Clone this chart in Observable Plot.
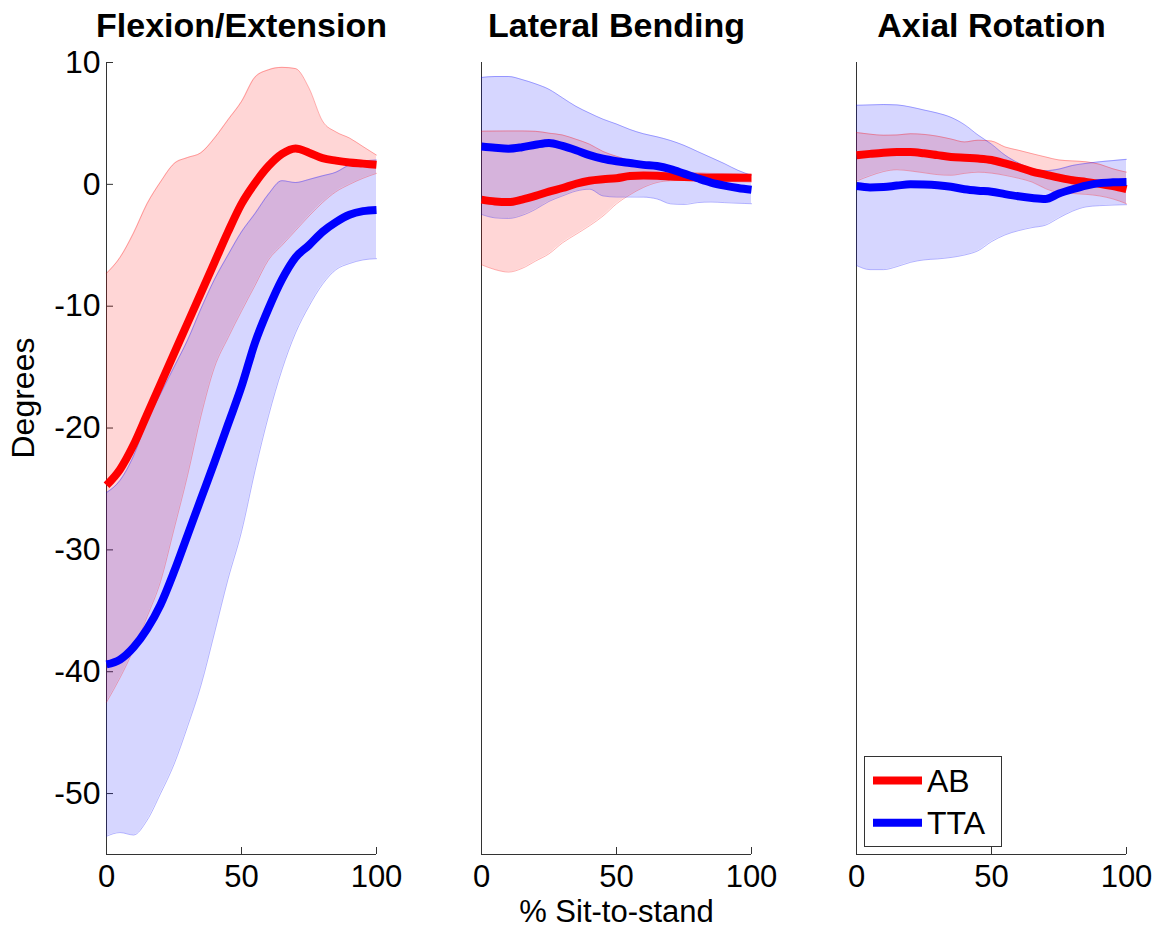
<!DOCTYPE html>
<html><head><meta charset="utf-8">
<script src="https://cdn.jsdelivr.net/npm/d3@7"></script>
<script src="https://cdn.jsdelivr.net/npm/@observablehq/plot@0.6"></script>
<style>
body{margin:0;background:#fff;}
#wrap{position:relative;width:1159px;height:928px;}
</style></head><body><div id="wrap"></div>
<script>
// ---- data ----
const panels = ["Flexion/Extension", "Lateral Bending", "Axial Rotation"];
const groups = ["AB", "TTA"];
const groupColors = ["#ff0000", "#0000ff"];
const xTicks = [0, 50, 100];
const yTicks = [10, 0, -10, -20, -30, -40, -50];
const xLabel = "% Sit-to-stand";
const yLabel = "Degrees";
const pct = [0,5,10,15,20,25,30,35,40,45,50,55,60,65,70,75,80,85,90,95,100];

const flexAB_mean = [-24.7,-23.4,-21.4,-18.9,-16.4,-13.9,-11.4,-8.9,-6.4,-3.9,-1.6,0.1,1.5,2.5,2.95,2.6,2.15,1.95,1.8,1.7,1.6];
const flexAB_hi   = [-7.3,-6.0,-4.0,-1.6,0.2,1.7,2.2,2.6,3.8,5.3,6.8,8.8,9.4,9.6,9.5,7.9,5.2,4.3,3.8,3.1,2.4];
const flexAB_lo   = [-42.5,-40.5,-38.2,-35.5,-32.6,-28.3,-23.9,-19.0,-15.0,-12.6,-10.4,-8.3,-6.2,-5.0,-3.8,-2.6,-1.5,-0.6,0.0,0.5,0.9];
const flexTTA_mean = [-39.4,-39.0,-38.0,-36.5,-34.5,-31.8,-28.8,-25.8,-22.8,-19.7,-16.6,-13.0,-10.2,-7.8,-6.0,-5.0,-3.9,-3.1,-2.5,-2.2,-2.1];
const flexTTA_hi   = [-25.3,-24.3,-22.3,-19.4,-17.2,-15.0,-12.8,-10.2,-7.8,-5.8,-3.9,-2.4,-0.8,0.3,0.15,0.4,0.7,1.0,1.6,1.9,2.0];
const flexTTA_lo   = [-53.5,-53.2,-53.4,-52.2,-50.0,-47.6,-44.5,-41.1,-36.8,-32.4,-28.5,-23.5,-19.0,-15.2,-12.2,-10.0,-8.2,-7.0,-6.5,-6.2,-6.1];

const latAB_mean = [-1.25,-1.4,-1.45,-1.25,-0.95,-0.6,-0.3,0.05,0.3,0.42,0.5,0.68,0.72,0.7,0.65,0.6,0.57,0.55,0.55,0.55,0.55];
const latAB_hi   = [4.36,4.37,4.38,4.38,4.35,4.2,4.05,3.7,3.3,2.7,2.3,1.95,1.6,1.3,1.05,0.97,0.93,0.9,0.88,0.85,0.82];
const latAB_lo   = [-6.6,-7.0,-7.2,-6.9,-6.3,-5.7,-4.8,-4.1,-3.4,-2.6,-1.6,-0.85,-0.25,0.15,0.3,0.33,0.3,0.27,0.24,0.21,0.19];
const latTTA_mean = [3.1,3.0,2.93,3.05,3.25,3.4,3.15,2.8,2.4,2.1,1.9,1.75,1.6,1.5,1.25,0.88,0.5,0.15,-0.1,-0.3,-0.45];
const latTTA_hi   = [8.77,8.85,8.85,8.6,8.25,7.8,7.1,6.4,5.85,5.35,4.95,4.5,4.15,3.9,3.6,3.2,2.7,2.2,1.7,1.15,0.74];
const latTTA_lo   = [-2.47,-2.75,-2.8,-2.55,-2.05,-1.4,-0.95,-0.55,-0.4,-0.95,-1.04,-1.04,-1.05,-1.2,-1.6,-1.65,-1.5,-1.45,-1.5,-1.55,-1.59];

const axAB_mean = [2.38,2.5,2.6,2.65,2.65,2.55,2.4,2.25,2.18,2.12,2.0,1.72,1.4,1.05,0.8,0.55,0.33,0.2,0.05,-0.15,-0.4];
const axAB_hi   = [4.25,4.12,4.03,4.05,4.15,4.1,3.95,3.72,3.48,3.62,3.55,3.07,2.8,2.52,2.25,2.0,1.92,1.85,1.65,1.27,1.0];
const axAB_lo   = [0.27,0.7,1.05,1.2,1.1,0.95,0.8,0.75,0.9,1.0,0.92,0.74,0.5,0.19,-0.35,-0.68,-0.75,-0.82,-0.95,-1.2,-1.59];
const axTTA_mean = [-0.14,-0.25,-0.22,-0.1,0.0,-0.02,-0.08,-0.2,-0.4,-0.52,-0.6,-0.8,-0.98,-1.12,-1.2,-0.75,-0.4,-0.1,0.1,0.17,0.2];
const axTTA_hi   = [6.49,6.52,6.55,6.52,6.35,6.1,5.85,5.5,4.9,4.05,3.3,2.4,1.75,1.3,1.12,1.25,1.55,1.72,1.85,1.95,2.05];
const axTTA_lo   = [-6.66,-7.0,-7.0,-6.75,-6.4,-6.2,-6.12,-6.0,-5.8,-5.45,-4.7,-4.15,-3.8,-3.55,-3.35,-2.75,-2.2,-1.85,-1.75,-1.7,-1.67];

// ---- table ----
const seriesList = [
  [panels[0], groups[0], flexAB_mean, flexAB_lo, flexAB_hi],
  [panels[0], groups[1], flexTTA_mean, flexTTA_lo, flexTTA_hi],
  [panels[1], groups[0], latAB_mean, latAB_lo, latAB_hi],
  [panels[1], groups[1], latTTA_mean, latTTA_lo, latTTA_hi],
  [panels[2], groups[0], axAB_mean, axAB_lo, axAB_hi],
  [panels[2], groups[1], axTTA_mean, axTTA_lo, axTTA_hi]
];
const rows = [];
for (const [panel, group, m, lo, hi] of seriesList) {
  pct.forEach((p, i) => rows.push({panel, group, pct: p, mean: m[i], lo: lo[i], hi: hi[i]}));
}

const font = "'Liberation Sans', Arial, Helvetica, sans-serif";
const axisColor = "#333";
const curve = "monotone-x";

const chart = Plot.plot({
  width: 1159,
  height: 928,
  marginLeft: 106,
  marginRight: 33,
  marginTop: 62,
  marginBottom: 74,
  style: {fontFamily: font, fontSize: "31px", background: "#fff", color: "#000"},
  fx: {domain: panels, paddingInner: 0.28, paddingOuter: 0, axis: null},
  x: {domain: [0, 100]},
  y: {domain: [-55, 10]},
  color: {domain: groups, range: groupColors},
  marks: [
    // axis lines
    Plot.ruleX([0], {stroke: axisColor, strokeWidth: 1}),
    Plot.ruleY([-55], {stroke: axisColor, strokeWidth: 1}),
    Plot.ruleX(xTicks, {x: d => d, insetTop: 785, stroke: axisColor}),
    Plot.ruleY(yTicks, {y: d => d, fx: () => panels[0], insetRight: 263, stroke: axisColor}),
    Plot.axisY({ticks: yTicks, tickSize: 0, tickPadding: 6, tickFormat: d => String(d), label: null, fontSize: 32}),
    Plot.axisX({ticks: xTicks, tickSize: 0, tickPadding: 10, tickFormat: d => String(d), label: null, fontSize: 31}),
    // bands
    Plot.areaY(rows, {fx: "panel", x: "pct", y1: "lo", y2: "hi", z: "group", fill: "group", fillOpacity: 0.16, curve}),
    Plot.lineY(rows, {fx: "panel", x: "pct", y: "lo", z: "group", stroke: "group", strokeOpacity: 0.3, strokeWidth: 1, curve}),
    Plot.lineY(rows, {fx: "panel", x: "pct", y: "hi", z: "group", stroke: "group", strokeOpacity: 0.3, strokeWidth: 1, curve}),
    // mean lines
    Plot.lineY(rows, {fx: "panel", x: "pct", y: "mean", z: "group", stroke: "group", strokeWidth: 8, strokeLinecap: "butt", strokeLinejoin: "round", curve}),
    // titles and labels
    Plot.text(panels, {fx: d => d, text: d => d, frameAnchor: "top", dy: -26, lineAnchor: "bottom", fontWeight: "bold", fontSize: 34}),
    Plot.text([yLabel], {fx: () => panels[0], text: d => d, frameAnchor: "left", rotate: -90, dx: -73, lineAnchor: "bottom", fontSize: 32}),
    Plot.text([xLabel], {fx: () => panels[1], text: d => d, frameAnchor: "bottom", dy: 67, lineAnchor: "bottom", fontSize: 31})
  ]
});
document.getElementById("wrap").appendChild(chart);

// ---- legend (inside the third panel) ----
const leg = d3.select(chart).append("g")
  .attr("font-family", font).attr("font-size", 32).attr("text-anchor", "start");
leg.append("rect").attr("x", 864.5).attr("y", 756.5).attr("width", 137).attr("height", 90)
  .attr("fill", "#fff").attr("stroke", axisColor).attr("stroke-width", 1);
groups.forEach((g, i) => {
  const cy = 780.5 + i * 42.3;
  leg.append("line").attr("x1", 873).attr("x2", 922).attr("y1", cy).attr("y2", cy)
    .attr("stroke", groupColors[i]).attr("stroke-width", 8);
  leg.append("text").attr("x", 927).attr("y", cy + 11.5).attr("fill", "#000")
    .attr("text-anchor", "start").text(g);
});
</script></body></html>
